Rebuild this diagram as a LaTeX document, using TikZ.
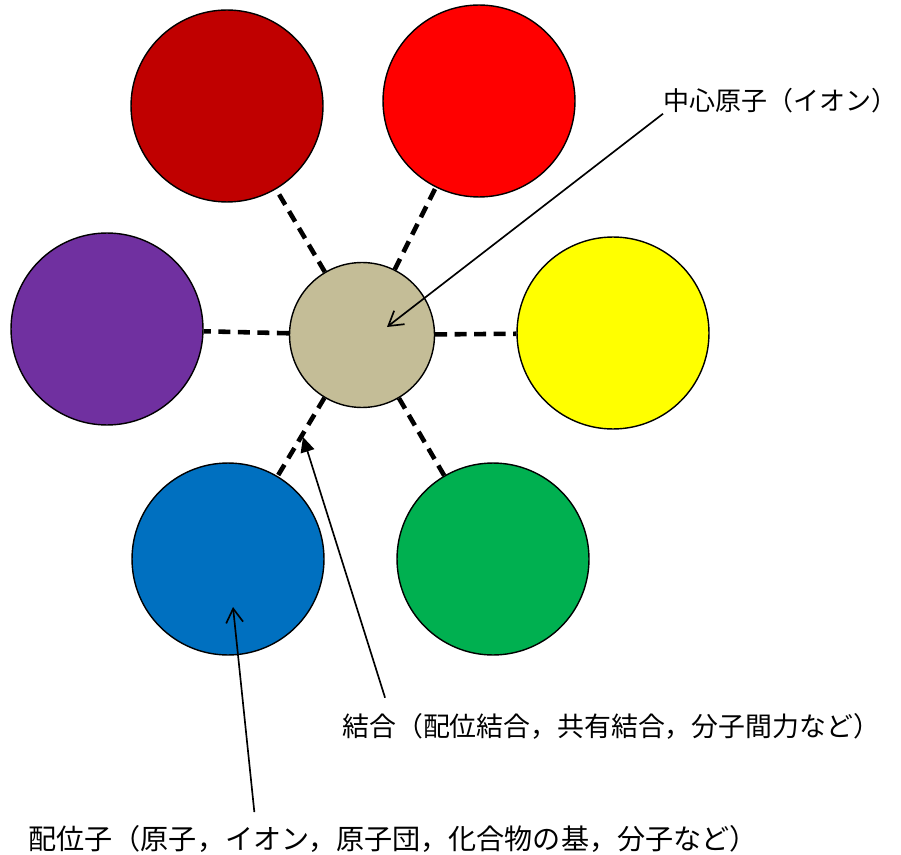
\documentclass[tikz,border=0pt]{standalone}
\usepackage{fontspec}
\newfontfamily\jpfont{Noto Sans CJK JP}
\usetikzlibrary{arrows.meta,calc}

\definecolor{darkred}{HTML}{C00000}
\definecolor{brightred}{HTML}{FF0000}
\definecolor{violet}{HTML}{7030A0}
\definecolor{sand}{HTML}{C4BD97}
\definecolor{lemon}{HTML}{FFFF00}
\definecolor{ocean}{HTML}{0070C0}
\definecolor{grass}{HTML}{00B050}

\tikzset{
  ball/.style={circle,draw=black,line width=0.8pt,minimum size=3.84cm,inner sep=0pt},
  bond/.style={line width=2.6pt,dash pattern=on 0.24cm off 0.15cm},
  callout/.style={line width=0.95pt},
  lbl/.style={inner sep=0pt,font=\jpfont\fontsize{15.3}{18}\selectfont}
}

\begin{document}
\begin{tikzpicture}[x=0.02cm,y=-0.02cm]
\useasboundingbox (0,0) rectangle (901,854);

% ligands and central atom
\node[ball,fill=darkred] (a1) at (227,106) {};
\node[ball,fill=brightred] (a2) at (479,101) {};
\node[ball,fill=violet] (a3) at (107,329) {};
\node[ball,fill=lemon] (a4) at (613,333) {};
\node[ball,fill=ocean] (a5) at (228,559) {};
\node[ball,fill=grass] (a6) at (493,559) {};
\node[ball,fill=sand,minimum size=2.9cm] (c) at (362,335) {};

% bonds
\draw[bond] (c) -- (a1);
\draw[bond] (c) -- (a2);
\draw[bond] (c) -- (a3);
\draw[bond] (c) -- (a4);
\draw[bond] (c) -- (a5);
\draw[bond] (c) -- (a6);

% labels
\node[lbl,anchor=west,font=\jpfont\fontsize{14.8}{18}\selectfont] (clbl) at (663,101) {中心原子（イオン）};
\node[lbl,anchor=west] (blbl) at (342,726) {結合（配位結合，共有結合，分子間力など）};
\node[lbl,anchor=west,font=\jpfont\fontsize{16}{19}\selectfont] (llbl) at (28,839) {配位子（原子，イオン，原子団，化合物の基，分子など）};

\coordinate (ctip) at (387,327);
\coordinate (btip) at (303,437);
\coordinate (ltip) at (233,607);

\draw[callout,-{Straight Barb[length=0.28cm,width=0.34cm]}] (clbl.south west) -- (ctip);
\draw[callout,-{Triangle[length=0.3cm,width=0.28cm]}] ($(blbl.north west)!0.08!(blbl.north east)+(0,-15)$) -- (btip);
\draw[callout,-{Straight Barb[length=0.28cm,width=0.34cm]}] ($(llbl.north west)!0.31!(llbl.north east)+(0,-13)$) -- (ltip);
\end{tikzpicture}
\end{document}
